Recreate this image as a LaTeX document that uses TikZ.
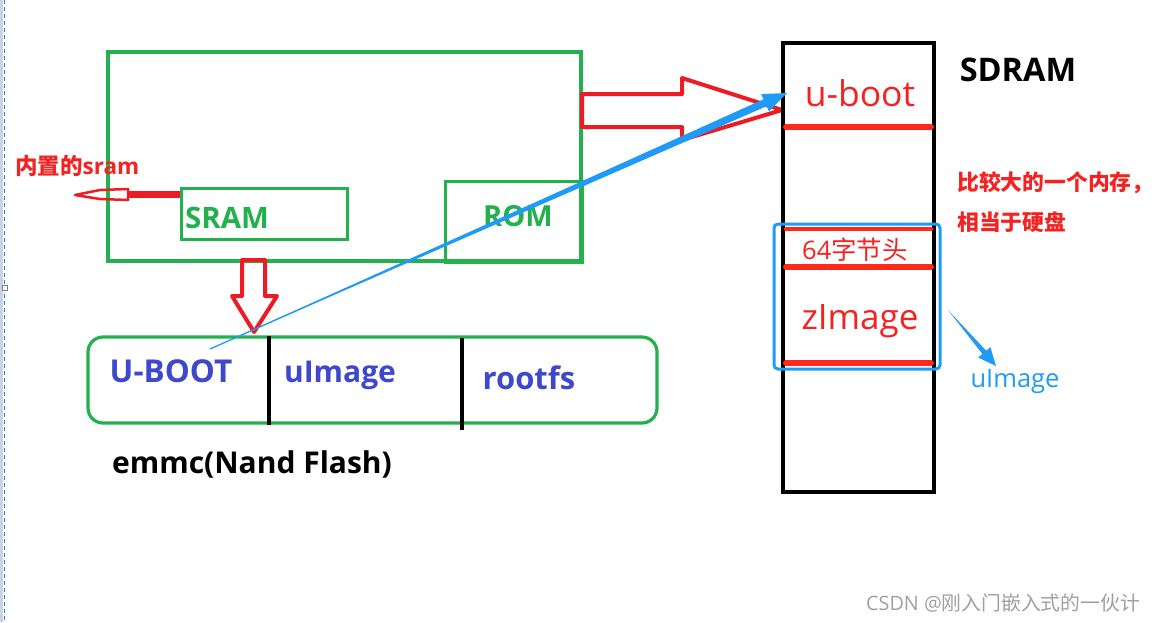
\documentclass[tikz,border=0pt]{standalone}
\usepackage{fontspec}
\setmainfont{Open Sans}
\newfontfamily\cjk{Noto Sans CJK SC}
\usetikzlibrary{calc}
\definecolor{cgreen}{HTML}{22B14C}
\definecolor{cred}{HTML}{ED1C24}
\definecolor{tred}{HTML}{F52222}
\definecolor{lred}{HTML}{FF2A1A}
\definecolor{cviolet}{HTML}{3F48CC}
\definecolor{cblue}{HTML}{1F9BF5}
\definecolor{cgray}{HTML}{A0A0A0}
\definecolor{strip}{HTML}{C8D4E4}
\definecolor{dashblue}{HTML}{2A7FD4}
\tikzset{
  gbox/.style={draw=cgreen, line width=3.2pt},
  hollow/.style={draw=cred, line width=4pt, line join=round},
  redbar/.style={draw=lred, line width=6pt, line cap=round},
  txt/.style={inner sep=0pt, anchor=center},
}
\begin{document}
\begin{tikzpicture}[x=1pt,y=-1pt]
\useasboundingbox (0,0) rectangle (1154,622);
\fill[white] (0,0) rectangle (1154,622);
% left edge
\fill[strip] (0,0) rectangle (3,622);
\draw[dashblue, line width=1.2pt, dash pattern=on 4pt off 3pt] (4.5,0) -- (4.5,622);
\draw[gray, fill=white, line width=0.8pt] (2,285) rectangle (7,290);

% main board
\draw[gbox] (108,52) rectangle (581,261);
\node[draw=cgreen, line width=3.2pt, minimum width=166pt, minimum height=51pt, inner sep=0pt, anchor=north west] (sram) at (180,187) {};
\node[draw=cgreen, line width=3.2pt, minimum width=137pt, minimum height=81pt, inner sep=0pt, anchor=north west] (rom) at (444,180) {};
\node[txt, text=cgreen] (sramt) at (227,218) {\fontsize{29.5}{34}\selectfont\bfseries SRAM};
\node[txt, text=cgreen] (romt) at (518,216) {\fontsize{29}{34}\selectfont\bfseries ROM};

% internal sram arrow
\node[txt, text=tred, anchor=west] (intl) at (15,166) {\fontsize{22.5}{26}\selectfont\bfseries{\cjk 内置的}sram};
\coordinate (la) at (180,194);
\coordinate (lb) at (128,194);
\draw[cred, line width=7pt] (la) -- (lb);
\draw[cred, line width=2.5pt, line join=round] (128,189) -- (128,200) -- (100,199) -- (75,195) -- (100,190) -- cycle;

% big right hollow arrow
\draw[hollow] (582,94) -- (682,94) -- (682,78) -- (782,110) -- (682,140) -- (682,127) -- (582,127) -- cycle;

% down hollow arrow
\draw[hollow] (242,260) -- (265,260) -- (265,296) -- (277,296) -- (254,332) -- (232,296) -- (242,296) -- cycle;

% emmc
\draw[cgreen, line width=3.2pt, rounded corners=15pt] (88,337) rectangle (657,423);
\draw[black, line width=3.5pt] (269,336) -- (269,425);
\draw[black, line width=3.5pt] (462,338) -- (462,430);
\node[txt, text=cviolet] (ub) at (171,371) {\fontsize{31.5}{36}\selectfont\bfseries U-BOOT};
\node[txt, text=cviolet] (ui) at (340,375) {\fontsize{30}{36}\selectfont\bfseries uImage};
\node[txt, text=cviolet] (rf) at (529,378) {\fontsize{31}{36}\selectfont\bfseries rootfs};
\node[txt, text=black] (emmc) at (252,464) {\fontsize{30}{36}\selectfont\bfseries emmc(Nand Flash)};

% SDRAM
\draw[black, line width=4pt] (783,43) rectangle (934,492);
\node[txt, text=black] (sdram) at (1018,70) {\fontsize{32.5}{38}\selectfont\bfseries SDRAM};
\node[txt, text=tred] (uboot) at (860,93) {\fontsize{35.5}{42}\selectfont u-boot};
\draw[redbar] (786,127) -- (931,127);
\draw[cblue, line width=3pt, rounded corners=4pt] (774,224) rectangle (940,369);
\draw[redbar, line width=4.5pt] (786,229) -- (931,229);
\node[txt, text=tred] (hdr) at (855,250) {\fontsize{25.5}{30}\selectfont 64{\cjk 字节头}};
\draw[redbar] (786,267) -- (931,267);
\node[txt, text=tred] (zi) at (860,321) {\fontsize{35}{42}\selectfont zImage};
\draw[redbar] (786,363) -- (931,363);
\node[txt, text=tred, anchor=west] (n1) at (957,183) {\fontsize{21.8}{26}\selectfont\cjk\bfseries 比较大的一个内存，};
\node[txt, text=tred, anchor=west] (n2) at (957,222) {\fontsize{21.8}{26}\selectfont\cjk\bfseries 相当于硬盘};
\node[txt, text=cblue] (ui2) at (1015,381) {\fontsize{25.5}{30}\selectfont uImage};

% blue long arrow
\coordinate (bs) at (210,349);
\coordinate (bt) at (787,93);
\coordinate (bh) at ($(bt)!24pt!(bs)$);
\fill[cblue] (bs) -- ($(bh)!3.8pt!90:(bs)$) -- ($(bh)!9.5pt!90:(bs)$) -- (bt) -- ($(bh)!9.5pt!-90:(bs)$) -- ($(bh)!3.8pt!-90:(bs)$) -- cycle;
\draw[cblue, line width=1.3pt] (bs) -- (bh);

% blue short arrow
\coordinate (ws) at (948,310);
\coordinate (wt) at (996,366);
\coordinate (wh) at ($(wt)!18pt!(ws)$);
\fill[cblue] (ws) -- ($(wh)!2.5pt!90:(ws)$) -- ($(wh)!8pt!90:(ws)$) -- (wt) -- ($(wh)!8pt!-90:(ws)$) -- ($(wh)!2.5pt!-90:(ws)$) -- cycle;

% watermark
\node[txt, text=cgray] (wm) at (1003,603) {\fontsize{19.8}{24}\selectfont CSDN @{\cjk 刚入门嵌入式的一伙计}};
\end{tikzpicture}
\end{document}
